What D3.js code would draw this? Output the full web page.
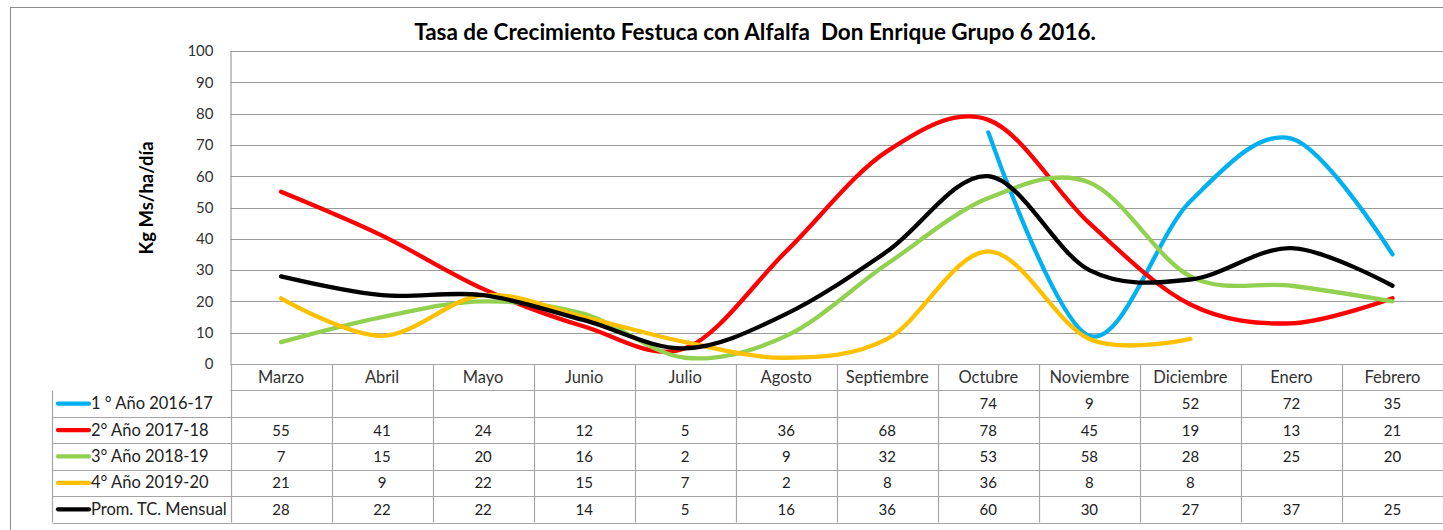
<!DOCTYPE html>
<html>
<head>
<meta charset="utf-8">
<script src="https://cdn.jsdelivr.net/npm/d3@7"></script>
<style>
  html, body { margin: 0; padding: 0; background: #fff; }
  svg { display: block; }
  text { font-family: Lato, "Open Sans", sans-serif; }
</style>
</head>
<body>
<svg id="chart" width="1443" height="530"></svg>
<script>
const months = ["Marzo","Abril","Mayo","Junio","Julio","Agosto","Septiembre","Octubre","Noviembre","Diciembre","Enero","Febrero"];
const seriesNames = ["1 ° Año 2016-17","2° Año 2017-18","3° Año 2018-19","4° Año 2019-20","Prom. TC. Mensual"];
const seriesColors = ["#00B0F0","#FF0000","#92D050","#FFC000","#000000"];
const year1 = [null,null,null,null,null,null,null,74,9,52,72,35];
const year2 = [55,41,24,12,5,36,68,78,45,19,13,21];
const year3 = [7,15,20,16,2,9,32,53,58,28,25,20];
const year4 = [21,9,22,15,7,2,8,36,8,8,null,null];
const average = [28,22,22,14,5,16,36,60,30,27,37,25];
const yTicks = [0,10,20,30,40,50,60,70,80,90,100];
const title = "Tasa de Crecimiento Festuca con Alfalfa  Don Enrique Grupo 6 2016.";
const yTitle = "Kg Ms/ha/día";

const seriesValues = [year1, year2, year3, year4, average];
const series = seriesNames.map((n, i) => ({ name: n, color: seriesColors[i], values: seriesValues[i] }));

const svg = d3.select("#chart");
const plotLeft = 230.5, plotRight = 1443, plotTop = 51, plotBottom = 364;
const tableLeft = 52.5;

const x = d3.scaleBand().domain(months).range([plotLeft, plotRight]);
const y = d3.scaleLinear().domain([0, 100]).range([plotBottom, plotTop]);
const rowY = d3.scaleBand().domain(["header", ...seriesNames]).range([plotBottom, 522.5]);
const cx = m => x(m) + x.bandwidth() / 2;

// outer border
svg.append("rect").attr("x", 10.5).attr("y", 7.5).attr("width", 1450).attr("height", 540)
  .attr("fill", "none").attr("stroke", "#8c8c8c").attr("stroke-width", 1);

// title
svg.append("text").attr("x", 755).attr("y", 40).attr("text-anchor", "middle")
  .attr("font-size", 22.5).attr("font-weight", "bold").attr("fill", "#000")
  .style("white-space", "pre").text(title);

// gridlines
svg.append("g").selectAll("line").data(yTicks.filter(t => t > 0)).join("line")
  .attr("x1", plotLeft).attr("x2", plotRight)
  .attr("y1", d => Math.round(y(d)) + 0.5).attr("y2", d => Math.round(y(d)) + 0.5)
  .attr("stroke", "#9a9a9a").attr("stroke-width", 1.2);

// y axis
const yAxis = d3.axisLeft(y).tickValues(yTicks).tickSize(0).tickPadding(17);
const yg = svg.append("g").attr("transform", `translate(${plotLeft},0)`).call(yAxis);
yg.select(".domain").attr("stroke", "#8c8c8c");
yg.selectAll("text").attr("font-size", 15).attr("fill", "#333").attr("font-family", "Lato, sans-serif");

// y title
svg.append("text").attr("transform", "translate(153,198) rotate(-90)").attr("text-anchor", "middle")
  .attr("font-size", 18.5).attr("font-weight", "bold").attr("fill", "#000").text(yTitle);

// lines
const line = d3.line()
  .defined(d => d.v !== null)
  .x(d => cx(d.m)).y(d => y(d.v))
  .curve(d3.curveCardinal.tension(0));

svg.append("g").selectAll("path").data(series).join("path")
  .attr("d", s => line(s.values.map((v, i) => ({ m: months[i], v }))))
  .attr("fill", "none").attr("stroke", s => s.color).attr("stroke-width", 4.3)
  .attr("stroke-linecap", "round").attr("stroke-linejoin", "round");

// data table
const tg = svg.append("g");
const gridColor = "#a6a6a6";
tg.selectAll("line.h").data([...rowY.domain().map(d => rowY(d)), 522.5]).join("line")
  .attr("class", "h")
  .attr("x1", (d, i) => i <= 1 ? plotLeft : tableLeft).attr("x2", plotRight)
  .attr("y1", d => Math.round(d) + 0.5).attr("y2", d => Math.round(d) + 0.5)
  .attr("stroke", gridColor).attr("stroke-width", 1.2);
tg.selectAll("line.v").data([...months.map(m => x(m)), plotRight]).join("line")
  .attr("class", "v")
  .attr("x1", d => Math.round(d) + 0.5).attr("x2", d => Math.round(d) + 0.5)
  .attr("y1", plotBottom).attr("y2", 522.5)
  .attr("stroke", gridColor).attr("stroke-width", 1.2);
tg.append("line").attr("x1", tableLeft).attr("x2", tableLeft)
  .attr("y1", rowY(seriesNames[0])).attr("y2", 522.5).attr("stroke", gridColor).attr("stroke-width", 1.2);

tg.selectAll("text.hdr").data(months).join("text").attr("class", "hdr")
  .attr("x", cx).attr("y", rowY("header") + rowY.bandwidth() / 2 + 5.5)
  .attr("text-anchor", "middle").attr("font-size", 16.5).attr("fill", "#333").text(d => d);

series.forEach(s => {
  const yy = rowY(s.name) + rowY.bandwidth() / 2;
  tg.append("line").attr("x1", 58).attr("x2", 89).attr("y1", yy).attr("y2", yy)
    .attr("stroke", s.color).attr("stroke-width", 4.3).attr("stroke-linecap", "round");
  tg.append("text").attr("x", 91).attr("y", yy + 5.5).attr("font-size", 16.5).attr("fill", "#222").text(s.name);
  tg.selectAll(null).data(s.values.map((v, i) => ({ m: months[i], v }))).join("text")
    .attr("x", d => cx(d.m)).attr("y", yy + 5.5).attr("text-anchor", "middle")
    .attr("font-size", 15).attr("fill", "#222").text(d => d.v === null ? "" : d.v);
});
</script>
</body>
</html>
